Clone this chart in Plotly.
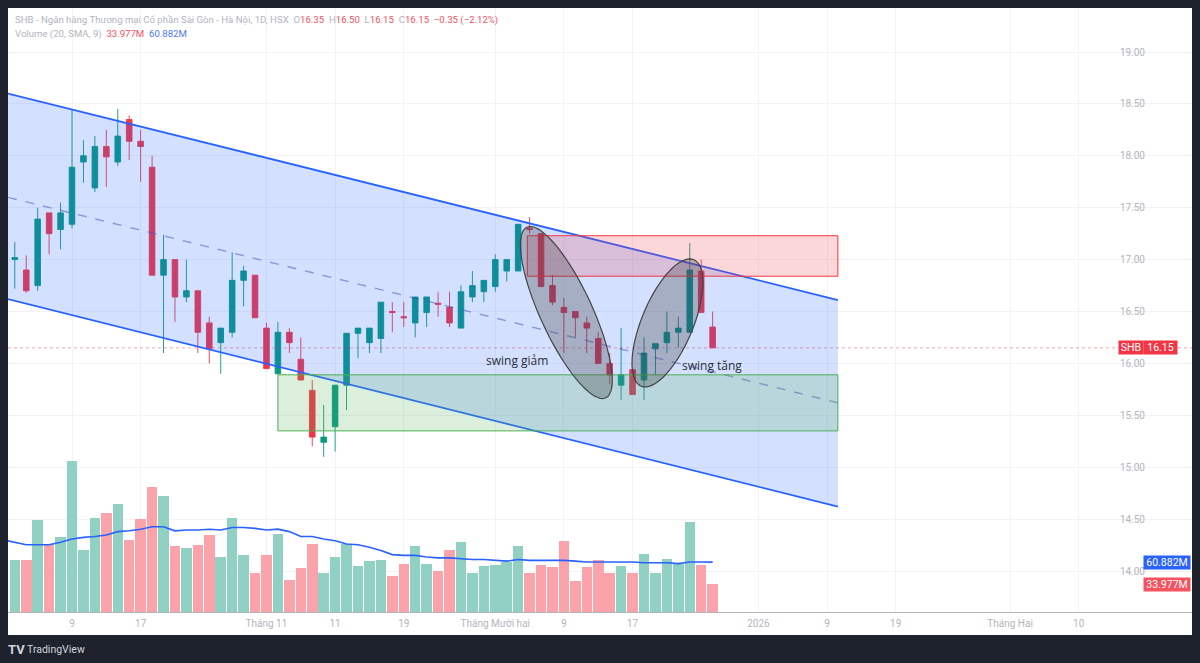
import numpy as np
import plotly.graph_objects as go

# candles, one entry per trading day
opens = [17.0, 16.9, 16.75, 17.45, 17.29, 17.34, 17.94, 17.69, 18.09, 17.94, 18.35, 18.14, 17.89, 16.85, 17.0, 16.64,
         16.7, 16.39, 16.2, 16.3, 16.8, 16.85, 16.34, 15.9, 16.3, 16.04, 15.74, 15.24, 15.39, 15.79, 16.29, 16.2,
         16.24, 16.5, 16.45, 16.39, 16.49, 16.58, 16.54, 16.34, 16.64, 16.69, 16.74, 16.89, 16.89, 17.3, 17.25, 16.75,
         16.54, 16.5, 16.39, 16.24, 16.0, 15.79, 15.94, 15.84, 16.14, 16.2, 16.3, 16.3, 16.89, 16.35]
highs = [17.17, 17.04, 17.5, 17.45, 17.55, 18.44, 18.15, 18.19, 18.25, 18.45, 18.39, 18.25, 18.0, 17.24, 17.0, 17.0,
         16.7, 16.45, 16.34, 17.07, 16.94, 16.85, 16.39, 16.4, 16.34, 16.25, 15.84, 15.6, 15.79, 16.29, 16.34, 16.34,
         16.59, 16.59, 16.59, 16.64, 16.64, 16.69, 16.69, 16.75, 16.89, 16.8, 17.05, 17.0, 17.34, 17.41, 17.25, 16.85,
         16.63, 16.5, 16.45, 16.3, 16.1, 16.34, 15.94, 16.25, 16.19, 16.5, 16.45, 17.16, 17.0, 16.5]
lows = [16.72, 16.68, 16.7, 17.05, 17.1, 17.3, 17.74, 17.65, 17.7, 17.9, 17.96, 17.75, 16.85, 16.1, 16.4, 16.59,
        16.1, 16.0, 15.9, 16.25, 16.55, 16.44, 15.95, 15.9, 16.1, 15.84, 15.2, 15.1, 15.15, 15.55, 16.05, 16.1,
        16.1, 16.3, 16.35, 16.25, 16.35, 16.45, 16.35, 16.34, 16.59, 16.59, 16.69, 16.79, 16.89, 17.25, 16.74, 16.56,
        16.1, 16.25, 16.1, 16.0, 15.8, 15.65, 15.7, 15.65, 15.89, 16.1, 16.15, 16.3, 16.49, 16.15]
closes = [17.02, 16.7, 17.39, 17.25, 17.45, 17.89, 18.0, 18.09, 17.99, 18.19, 18.14, 18.09, 16.85, 17.0, 16.64, 16.7,
          16.3, 16.14, 16.34, 16.8, 16.89, 16.44, 15.95, 16.3, 16.2, 15.84, 15.29, 15.29, 15.79, 16.29, 16.34, 16.34,
          16.59, 16.49, 16.44, 16.64, 16.64, 16.57, 16.39, 16.69, 16.75, 16.8, 17.0, 17.0, 17.34, 17.29, 16.74, 16.59,
          16.49, 16.44, 16.34, 16.0, 15.89, 15.89, 15.7, 16.1, 16.19, 16.3, 16.34, 16.9, 16.49, 16.15]

# volume in millions
volumes = [63, 63, 112, 83, 91, 184, 76, 115, 121, 132, 88, 113, 153, 141, 80, 78, 82, 94, 67, 115, 70, 47, 70, 95,
           39, 54, 83, 48, 67, 83, 56, 62, 64, 44, 59, 81, 58, 50, 76, 85, 48, 56, 57, 61, 80, 48, 57, 55, 87, 38,
           55, 64, 48, 56, 48, 71, 47, 65, 59, 110, 57, 33.977]
# the moving average starts one bar left of the window
volume_ma = [88, 85, 82, 82, 82, 85, 89, 91, 92, 94, 98, 99, 101, 104, 104, 99, 100, 100, 101, 100, 103, 103, 102,
             100, 101, 98, 92, 92, 89, 87, 83, 82, 79, 75, 70, 69, 69, 67, 66, 66, 65, 64, 64, 63, 62, 64, 63, 63, 63,
             63, 62, 61, 61, 61, 61, 61, 60, 60, 60, 59, 61, 61, 60.882]

tick_vals = [5, 11, 22, 28, 34, 42, 48, 54, 65, 71, 77, 87, 93]
tick_text = ["9", "17", "Tháng 11", "11", "19", "Tháng Mười hai", "9", "17", "2026", "9", "19", "Tháng Hai", "10"]
price_ticks = [14.0, 14.5, 15.0, 15.5, 16.0, 16.5, 17.0, 17.5, 18.0, 18.5, 19.0]

# drawings
channel_x = [-0.6, 71.95]
channel_top = [18.6, 16.61]
channel_mid = [17.6, 15.62]
channel_bottom = [16.62, 14.62]
red_zone = [44.8, 71.95, 16.84, 17.23]
green_zone = [23.0, 71.95, 15.35, 15.89]

W, H = 1200, 663
BAR_PX = 11.44
PRICE_PX = 103.8
BG = "#1e222d"
UP = "#089981"
DOWN = "#f23645"
GRAY = "#b2b5be"
FONT = "Roboto"

x = list(range(len(opens)))
bar_colors = ["#90d1c3" if c >= o else "#fba3ab" for o, c in zip(opens, closes)]


def px_x(px):
    return (px - 8) / (W - 16)


def px_y(px):
    return (H - 51 - px) / (H - 8 - 51)


def ellipse_path(cx, cy, a, b, tilt):
    # cx, cy in bars/price, a, b in screen px, tilt from vertical in degrees (positive leans left at the top)
    t = np.linspace(0, 2 * np.pi, 80)
    th = np.radians(tilt)
    dx = -a * np.cos(t) * np.sin(th) + b * np.sin(t) * np.cos(th)
    dy = a * np.cos(t) * np.cos(th) + b * np.sin(t) * np.sin(th)
    xs = cx + dx / BAR_PX
    ys = cy + dy / PRICE_PX
    return "M " + " L ".join(f"{i:.3f},{j:.3f}" for i, j in zip(xs, ys)) + " Z"


def poly_path(xs, top, bottom):
    return f"M {xs[0]},{top[0]} L {xs[1]},{top[1]} L {xs[1]},{bottom[1]} L {xs[0]},{bottom[0]} Z"


fig = go.Figure()
fig.add_trace(go.Bar(x=x, y=volumes, yaxis="y2", marker=dict(color=bar_colors, line_width=0), width=0.92,
                     showlegend=False, hoverinfo="skip"))
fig.add_trace(go.Scatter(x=list(range(-1, len(opens))), y=volume_ma, yaxis="y2", mode="lines",
                         line=dict(color="#2962ff", width=1.6), showlegend=False, hoverinfo="skip"))
fig.add_trace(go.Candlestick(x=x, open=opens, high=highs, low=lows, close=closes,
                             increasing=dict(line=dict(color=UP, width=0.9), fillcolor=UP),
                             decreasing=dict(line=dict(color=DOWN, width=0.9), fillcolor=DOWN),
                             whiskerwidth=0, showlegend=False))

shapes = [
    # white strip under the time axis, the rest of the window stays dark
    dict(type="rect", xref="paper", yref="paper", x0=0, x1=1, y0=px_y(635), y1=px_y(612),
         fillcolor="white", line_width=0, layer="below"),
    dict(type="line", xref="paper", yref="y", x0=0, x1=1, y0=closes[-1], y1=closes[-1],
         line=dict(color="rgba(242,54,69,0.45)", width=1, dash="dot"), layer="above"),
    dict(type="path", path=poly_path(channel_x, channel_top, channel_bottom), fillcolor="rgba(41,98,255,0.2)",
         line_width=0, layer="above"),
    dict(type="line", x0=channel_x[0], x1=channel_x[1], y0=channel_top[0], y1=channel_top[1],
         line=dict(color="#2962ff", width=1.8), layer="above"),
    dict(type="line", x0=channel_x[0], x1=channel_x[1], y0=channel_bottom[0], y1=channel_bottom[1],
         line=dict(color="#2962ff", width=1.8), layer="above"),
    dict(type="line", x0=channel_x[0], x1=channel_x[1], y0=channel_mid[0], y1=channel_mid[1],
         line=dict(color="rgba(60,80,180,0.5)", width=1.4, dash="dash"), layer="above"),
    dict(type="rect", x0=red_zone[0], x1=red_zone[1], y0=red_zone[2], y1=red_zone[3],
         fillcolor="rgba(242,54,69,0.2)", line=dict(color="#f23645", width=1), layer="above"),
    dict(type="rect", x0=green_zone[0], x1=green_zone[1], y0=green_zone[2], y1=green_zone[3],
         fillcolor="rgba(76,175,80,0.2)", line=dict(color="#4caf50", width=1), layer="above"),
    dict(type="path", path=ellipse_path(48.21, 16.49, 94, 26, 24.8), fillcolor="rgba(60,60,60,0.3)",
         line=dict(color="#444444", width=1.2), layer="above"),
    dict(type="path", path=ellipse_path(57.05, 16.39, 68.5, 25.7, -22.6), fillcolor="rgba(60,60,60,0.3)",
         line=dict(color="#444444", width=1.2), layer="above"),
]

sep = "&nbsp;&nbsp;"
red = lambda s: f"<span style='color:#f7525f'>{s}</span>"
header = ("SHB - Ngân hàng Thương mại Cổ phần Sài Gòn - Hà Nội, 1D, HSX" + sep
          + "O" + red("16.35") + sep + "H" + red("16.50") + sep + "L" + red("16.15") + sep
          + "C" + red("16.15") + sep + red("−0.35 (−2.12%)"))
header2 = ("Volume (20, SMA, 9)" + sep + red(f"{volumes[-1]:.3f}M") + sep
           + f"<span style='color:#4d78ee'>{volume_ma[-1]:.3f}M</span>")


def tag(text, px_left, yval, yref, color, width):
    return dict(text=text, xref="paper", yref=yref, x=px_x(px_left), y=yval, xanchor="left", yanchor="middle",
                showarrow=False, bgcolor=color, width=width, height=13, borderpad=0, align="center",
                font=dict(family=FONT, size=10.5, color="white"))


annotations = [
    dict(text=header, xref="paper", yref="paper", x=px_x(13), y=px_y(20), xanchor="left", yanchor="middle",
         showarrow=False, font=dict(family=FONT, size=9.6, color=GRAY)),
    dict(text=header2, xref="paper", yref="paper", x=px_x(13), y=px_y(34), xanchor="left", yanchor="middle",
         showarrow=False, font=dict(family=FONT, size=9.6, color=GRAY)),
    dict(text="swing giảm", x=43.9, y=16.03, showarrow=False, font=dict(family="Open Sans", size=12, color="#2a2e39")),
    dict(text="swing tăng", x=60.9, y=15.98, showarrow=False, font=dict(family="Open Sans", size=12, color="#2a2e39")),
    tag("SHB", 1118, closes[-1], "y", DOWN, 24),
    tag(f"{closes[-1]:.2f}", 1143, closes[-1], "y", DOWN, 33),
    tag(f"{volume_ma[-1]:.3f}M", 1143, volume_ma[-1], "y2", "#2962ff", 46),
    tag(f"{volumes[-1]:.3f}M", 1143, volumes[-1], "y2", "#f7525f", 46),
    dict(text="<b>TV</b>", xref="paper", yref="paper", x=px_x(6), y=px_y(649), xanchor="left", yanchor="middle",
         showarrow=False, font=dict(family=FONT, size=13, color="#d1d4dc")),
    dict(text="TradingView", xref="paper", yref="paper", x=px_x(25), y=px_y(649), xanchor="left", yanchor="middle",
         showarrow=False, font=dict(family=FONT, size=10.5, color="#d1d4dc")),
]

fig.update_layout(
    width=W, height=H,
    margin=dict(l=8, r=8, t=8, b=51),
    paper_bgcolor=BG, plot_bgcolor="white",
    bargap=0, shapes=shapes, annotations=annotations,
    xaxis=dict(range=[(8 - 14.8) / BAR_PX, (1192 - 14.8) / BAR_PX], tickmode="array", tickvals=tick_vals,
               ticktext=tick_text, tickfont=dict(family=FONT, size=10, color=GRAY), ticks="", showline=True,
               linecolor="#b2b5be", linewidth=1, gridcolor="#f3f3f5", gridwidth=1, zeroline=False,
               ticklabelstandoff=2, rangeslider=dict(visible=False)),
    yaxis=dict(range=[19 - (612 - 52) / PRICE_PX, 19 + (52 - 8) / PRICE_PX], side="right", tickmode="array",
               tickvals=price_ticks, ticktext=[f"{v:.2f}" for v in price_ticks], ticklabelposition="inside",
               ticklabelstandoff=44, tickfont=dict(family=FONT, size=10, color=GRAY), ticks="",
               gridcolor="#f3f3f5", zeroline=False, showline=False),
    yaxis2=dict(range=[0, 604 / 0.82], overlaying="y", side="right", visible=False),
)

# browsers give the body an 8px margin by default, the picture fills the whole window
fig.write_html("out.html", config=dict(displayModeBar=False), post_script="document.body.style.margin = '0';")
